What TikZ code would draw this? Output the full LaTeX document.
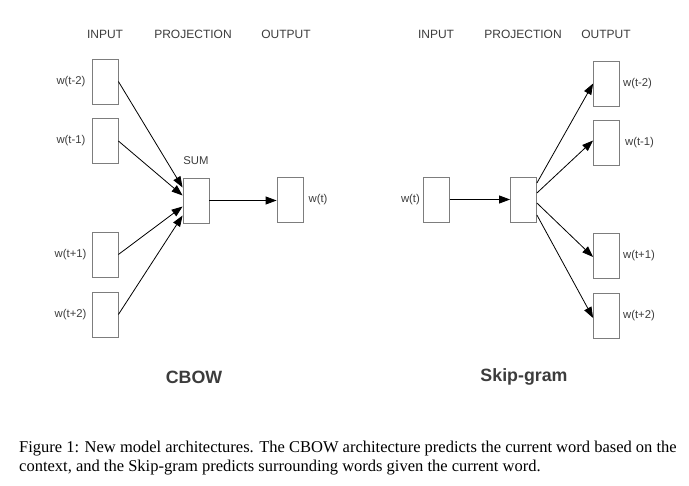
\documentclass[tikz,border=0pt]{standalone}
\usepackage{fontspec}
\setmainfont{Liberation Serif}
\setsansfont{Liberation Sans}
\usetikzlibrary{arrows.meta,positioning}
\definecolor{txt}{RGB}{60,60,60}
\definecolor{boxc}{RGB}{125,125,125}
\begin{document}
\begin{tikzpicture}[x=1pt,y=-1pt,
  wbox/.style={draw=boxc,line width=0.8pt,minimum width=26pt,minimum height=45pt,inner sep=0pt},
  lbl/.style={font=\sffamily\fontsize{11.3}{13}\selectfont,text=txt,inner sep=0pt},
  hdr/.style={font=\sffamily\fontsize{12}{14}\selectfont,text=txt,inner sep=0pt},
  ttl/.style={font=\sffamily\bfseries\fontsize{17.8}{20}\selectfont,text=txt,inner sep=0pt},
  arr/.style={-{Triangle[length=11pt,width=8pt]},line width=0.8pt,black}]
\useasboundingbox (0,0) rectangle (689,486);
% CBOW
\node[hdr] (h1) at (105,34) {INPUT};
\node[hdr] (h2) at (193,34) {PROJECTION};
\node[hdr] (h3) at (286,34) {OUTPUT};
\node[wbox] (in1) at (105,81.5) {};
\node[wbox] (in2) at (105,141) {};
\node[wbox] (in3) at (105,254.5) {};
\node[wbox] (in4) at (105,314.5) {};
\node[wbox] (sum) at (196,200.5) {};
\node[wbox] (out) at (290,199.5) {};
\node[lbl,left=6pt of in1] (l1) {w(t-2)};
\node[lbl,left=6pt of in2] (l2) {w(t-1)};
\node[lbl,left=5pt of in3] (l3) {w(t+1)};
\node[lbl,left=5pt of in4] (l4) {w(t+2)};
\node[lbl,right=5pt of out] (lo) {w(t)};
\node[lbl] (sumlbl) at (196,161) {SUM};
\draw[arr] (in1.east) -- ([yshift=13pt]sum.west);
\draw[arr] (in2.east) -- ([yshift=5pt]sum.west);
\draw[arr] (in3.east) -- ([yshift=-6pt]sum.west);
\draw[arr] (in4.east) -- ([yshift=-15pt]sum.west);
\draw[arr] (sum.east) -- (sum.east -| out.west);
\node[ttl] (t1) at (194,377) {CBOW};
% Skip-gram
\node[hdr] (k1) at (436,34) {INPUT};
\node[hdr] (k2) at (523,34) {PROJECTION};
\node[hdr] (k3) at (606,34) {OUTPUT};
\node[wbox] (sin) at (436.5,199.5) {};
\node[wbox] (sp) at (523.5,199.5) {};
\node[wbox] (so1) at (606.5,83.5) {};
\node[wbox] (so2) at (606.5,142.5) {};
\node[wbox] (so3) at (606.5,256) {};
\node[wbox] (so4) at (606.5,315.5) {};
\node[lbl,left=3pt of sin] (sl) {w(t)};
\node[lbl,right=3pt of so1] (s1) {w(t-2)};
\node[lbl,right=5pt of so2] (s2) {w(t-1)};
\node[lbl,right=3pt of so3] (s3) {w(t+1)};
\node[lbl,right=3pt of so4] (s4) {w(t+2)};
\draw[arr] (sin.east) -- (sp.west);
\draw[arr] ([yshift=16.5pt]sp.east) -- (so1.west);
\draw[arr] ([yshift=6.5pt]sp.east) -- ([yshift=2pt]so2.west);
\draw[arr] ([yshift=-3.5pt]sp.east) -- ([yshift=-1pt]so3.west);
\draw[arr] ([yshift=-15.5pt]sp.east) -- ([yshift=-2.5pt]so4.west);
\node[ttl] (t2) at (524,377) {Skip-gram};
% caption
\node[anchor=north west,inner sep=0pt,align=left,font=\fontsize{16.5}{18.5}\selectfont] (cap) at (19,441)
 {Figure 1: New model architectures. The CBOW architecture predicts the current word based on the\\
 context, and the Skip-gram predicts surrounding words given the current word.};
\end{tikzpicture}
\end{document}
